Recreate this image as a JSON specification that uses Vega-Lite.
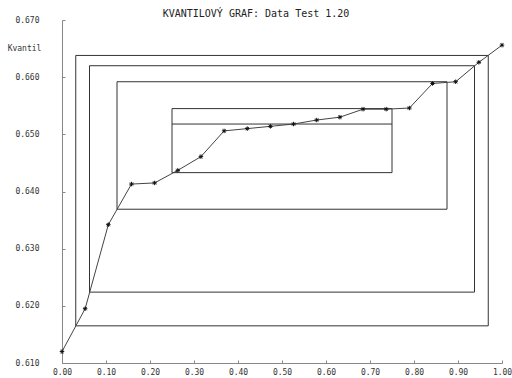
{
  "$schema": "https://vega.github.io/schema/vega-lite/v6.json",
  "width": 440,
  "height": 343,
  "autosize": {"type": "none"},
  "padding": {"left": 62, "top": 20, "right": 10, "bottom": 15},
  "background": "white",
  "title": {
    "text": "KVANTILOVÝ GRAF: Data Test 1.20",
    "font": "DejaVu Sans Mono",
    "fontSize": 10,
    "fontWeight": "normal",
    "color": "#222",
    "frame": "group",
    "anchor": "middle",
    "dx": -26,
    "dy": 15,
    "offset": 2,
    "baseline": "bottom"
  },
  "config": {
    "view": {"stroke": null},
    "axis": {
      "labelFont": "DejaVu Sans Mono",
      "labelFontSize": 8,
      "labelColor": "#333",
      "labelFlush": false,
      "domainColor": "#888",
      "tickColor": "#888",
      "grid": false
    }
  },
  "datasets": {
    "quantiles": [
      {"p": 0.0000, "q": 0.6120},
      {"p": 0.0526, "q": 0.6195},
      {"p": 0.1053, "q": 0.6342},
      {"p": 0.1579, "q": 0.6413},
      {"p": 0.2105, "q": 0.6415},
      {"p": 0.2632, "q": 0.6437},
      {"p": 0.3158, "q": 0.6461},
      {"p": 0.3684, "q": 0.6506},
      {"p": 0.4211, "q": 0.6510},
      {"p": 0.4737, "q": 0.6514},
      {"p": 0.5263, "q": 0.6518},
      {"p": 0.5789, "q": 0.6525},
      {"p": 0.6316, "q": 0.6530},
      {"p": 0.6842, "q": 0.6544},
      {"p": 0.7368, "q": 0.6544},
      {"p": 0.7895, "q": 0.6546},
      {"p": 0.8421, "q": 0.6589},
      {"p": 0.8947, "q": 0.6592},
      {"p": 0.9474, "q": 0.6626},
      {"p": 1.0000, "q": 0.6656}
    ],
    "boxes": [
      {"pLo": 0.03125, "pHi": 0.96875, "qLo": 0.6165, "qHi": 0.6638},
      {"pLo": 0.0625, "pHi": 0.9375, "qLo": 0.6224, "qHi": 0.6620},
      {"pLo": 0.125, "pHi": 0.875, "qLo": 0.6369, "qHi": 0.6592},
      {"pLo": 0.25, "pHi": 0.75, "qLo": 0.6433, "qHi": 0.6545}
    ],
    "median": [
      {"pLo": 0.25, "pHi": 0.75, "q": 0.6518}
    ]
  },
  "layer": [
    {
      "data": {"name": "boxes"},
      "mark": {"type": "rect", "fill": null, "stroke": "#333", "strokeWidth": 1},
      "encoding": {
        "x": {
          "field": "pLo",
          "type": "quantitative",
          "scale": {"domain": [0, 1], "nice": false, "zero": false},
          "axis": {
            "title": null,
            "values": [0, 0.1, 0.2, 0.3, 0.4, 0.5, 0.6, 0.7, 0.8, 0.9, 1.0],
            "format": ".2f",
            "tickSize": -3,
            "labelPadding": 8
          }
        },
        "x2": {"field": "pHi"},
        "y": {
          "field": "qLo",
          "type": "quantitative",
          "scale": {"domain": [0.61, 0.67], "nice": false, "zero": false},
          "axis": {
            "title": "Kvantil",
            "titleFont": "DejaVu Sans Mono",
            "titleFontSize": 8,
            "titleFontWeight": "normal",
            "titleColor": "#333",
            "titleAngle": 0,
            "titleAlign": "center",
            "titleBaseline": "alphabetic",
            "titleX": -38,
            "titleY": 30,
            "values": [0.61, 0.62, 0.63, 0.64, 0.65, 0.66, 0.67],
            "format": ".3f",
            "tickSize": -3,
            "labelPadding": 26
          }
        },
        "y2": {"field": "qHi"}
      }
    },
    {
      "data": {"name": "median"},
      "mark": {"type": "rule", "stroke": "#333", "strokeWidth": 1},
      "encoding": {
        "x": {"field": "pLo", "type": "quantitative"},
        "x2": {"field": "pHi"},
        "y": {"field": "q", "type": "quantitative"}
      }
    },
    {
      "data": {"name": "quantiles"},
      "mark": {"type": "line", "stroke": "#444", "strokeWidth": 1},
      "encoding": {
        "x": {"field": "p", "type": "quantitative"},
        "y": {"field": "q", "type": "quantitative"}
      }
    },
    {
      "data": {"name": "quantiles"},
      "mark": {
        "type": "point",
        "shape": "M-1,0L1,0M0,-1L0,1M-0.7,-0.7L0.7,0.7M-0.7,0.7L0.7,-0.7",
        "size": 20,
        "filled": false,
        "stroke": "#111",
        "strokeWidth": 1,
        "opacity": 1
      },
      "encoding": {
        "x": {"field": "p", "type": "quantitative"},
        "y": {"field": "q", "type": "quantitative"}
      }
    }
  ]
}
